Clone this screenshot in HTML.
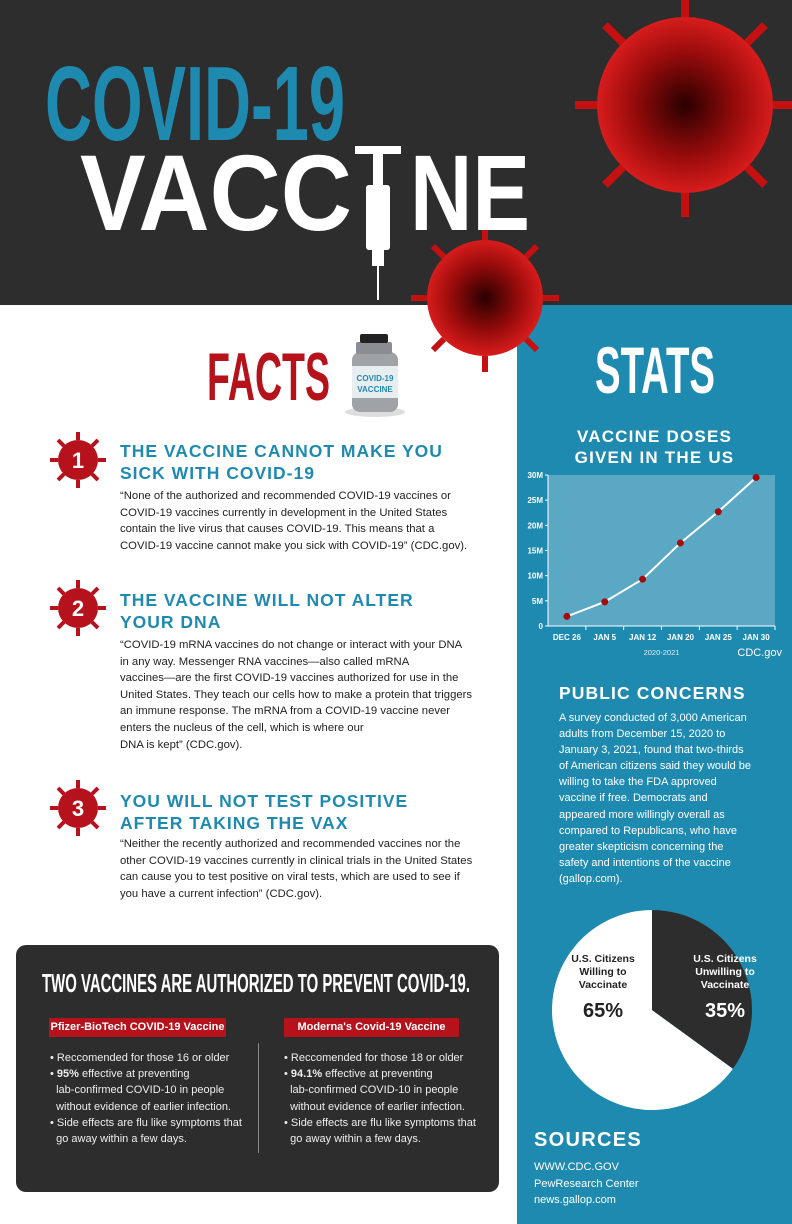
<!DOCTYPE html>
<html><head><meta charset="utf-8"><style>
*{margin:0;padding:0;box-sizing:border-box}
body{width:792px;height:1224px;position:relative;background:#fff;font-family:"Liberation Sans",sans-serif;overflow:hidden}
.a{position:absolute}
.h{color:#1f8ab0;font-weight:bold;font-size:17.5px;letter-spacing:1px;line-height:22px;left:120px;white-space:nowrap}
.p{font-size:11.3px;line-height:16.6px;color:#222;left:120px;white-space:nowrap}
.bl{font-size:11px;line-height:16.2px;color:#eee;white-space:nowrap}
</style></head><body>
<div class="a" style="left:0;top:0;width:792px;height:305px;background:#2d2d2d"></div>
<div class="a" style="left:517px;top:305px;width:275px;height:919px;background:#1f8ab0"></div>

<svg class="a" style="left:0;top:0" width="792" height="420">
<defs><radialGradient id="vg" cx="50%" cy="50%" r="50%"><stop offset="0" stop-color="#2a0000"/><stop offset="0.6" stop-color="#9a0c0c"/><stop offset="1" stop-color="#d81c1c"/></radialGradient></defs>
<g transform="translate(685,105)">
<circle r="88" fill="url(#vg)"/>
<g stroke="#c41010" stroke-width="8">
<line x1="0" y1="-88" x2="0" y2="-112"/><line x1="62" y1="-62" x2="80" y2="-80"/><line x1="88" y1="0" x2="110" y2="0"/><line x1="62" y1="62" x2="80" y2="80"/><line x1="0" y1="88" x2="0" y2="112"/><line x1="-62" y1="62" x2="-80" y2="80"/><line x1="-88" y1="0" x2="-110" y2="0"/><line x1="-62" y1="-62" x2="-80" y2="-80"/>
</g></g>
<g transform="translate(485,298)">
<circle r="58" fill="url(#vg)"/>
<g stroke="#c41010" stroke-width="6">
<line x1="0" y1="-58" x2="0" y2="-74"/><line x1="41" y1="-41" x2="52" y2="-52"/><line x1="58" y1="0" x2="74" y2="0"/><line x1="41" y1="41" x2="52" y2="52"/><line x1="0" y1="58" x2="0" y2="74"/><line x1="-41" y1="41" x2="-52" y2="52"/><line x1="-58" y1="0" x2="-74" y2="0"/><line x1="-41" y1="-41" x2="-52" y2="-52"/>
</g></g>
<g fill="#fff">
<rect x="355" y="146" width="46" height="8"/><rect x="373" y="150" width="10" height="40"/>
<rect x="366" y="185" width="24" height="65" rx="3"/><rect x="372" y="248" width="12" height="18"/>
<rect x="377" y="264" width="2" height="36"/>
</g>
<text x="45" y="140" textLength="300" lengthAdjust="spacingAndGlyphs" font-size="106" font-weight="bold" fill="#1f8ab0">COVID-19</text>
<text x="80" y="230" textLength="272" lengthAdjust="spacingAndGlyphs" font-size="108" font-weight="bold" fill="#fff">VACC</text>
<text x="410" y="230" textLength="120" lengthAdjust="spacingAndGlyphs" font-size="108" font-weight="bold" fill="#fff">NE</text>
<text x="207" y="400" textLength="123" lengthAdjust="spacingAndGlyphs" font-size="68" font-weight="bold" fill="#b5121b">FACTS</text>
<text x="595" y="393" textLength="120" lengthAdjust="spacingAndGlyphs" font-size="66" font-weight="bold" fill="#fff">STATS</text>
</svg>

<svg class="a" style="left:340px;top:330px" width="70" height="90">
<ellipse cx="35" cy="82" rx="30" ry="5" fill="#ddd"/>
<rect x="12" y="22" width="46" height="60" rx="8" fill="#9fa3a7"/>
<rect x="16" y="12" width="36" height="12" rx="2" fill="#8a8d91"/>
<rect x="20" y="4" width="28" height="9" rx="2" fill="#222"/>
<rect x="12" y="36" width="46" height="32" fill="#e8eef0"/>
<text x="35" y="51" text-anchor="middle" font-size="8" font-weight="bold" fill="#1f8ab0">COVID-19</text>
<text x="35" y="62" text-anchor="middle" font-size="8" font-weight="bold" fill="#1f8ab0">VACCINE</text>
</svg>

<svg class="a" style="left:40px;top:425px" width="80" height="420">
<g fill="#b5121b">
<g transform="translate(38,35)"><circle r="20"/><g stroke="#b5121b" stroke-width="4"><line y1="-20" y2="-28"/><line y1="20" y2="28"/><line x1="-20" x2="-28"/><line x1="20" x2="28"/><line x1="14" y1="14" x2="20" y2="20"/><line x1="-14" y1="14" x2="-20" y2="20"/><line x1="14" y1="-14" x2="20" y2="-20"/><line x1="-14" y1="-14" x2="-20" y2="-20"/></g><text y="8" text-anchor="middle" fill="#fff" font-size="22" font-weight="bold">1</text></g>
<g transform="translate(38,183)"><circle r="20"/><g stroke="#b5121b" stroke-width="4"><line y1="-20" y2="-28"/><line y1="20" y2="28"/><line x1="-20" x2="-28"/><line x1="20" x2="28"/><line x1="14" y1="14" x2="20" y2="20"/><line x1="-14" y1="14" x2="-20" y2="20"/><line x1="14" y1="-14" x2="20" y2="-20"/><line x1="-14" y1="-14" x2="-20" y2="-20"/></g><text y="8" text-anchor="middle" fill="#fff" font-size="22" font-weight="bold">2</text></g>
<g transform="translate(38,383)"><circle r="20"/><g stroke="#b5121b" stroke-width="4"><line y1="-20" y2="-28"/><line y1="20" y2="28"/><line x1="-20" x2="-28"/><line x1="20" x2="28"/><line x1="14" y1="14" x2="20" y2="20"/><line x1="-14" y1="14" x2="-20" y2="20"/><line x1="14" y1="-14" x2="20" y2="-20"/><line x1="-14" y1="-14" x2="-20" y2="-20"/></g><text y="8" text-anchor="middle" fill="#fff" font-size="22" font-weight="bold">3</text></g>
</g></svg>

<div class="a h" style="top:440px">THE VACCINE CANNOT MAKE YOU<br>SICK WITH COVID-19</div>
<div class="a p" style="top:488px">“None of the authorized and recommended COVID-19 vaccines or<br>COVID-19 vaccines currently in development in the United States<br>contain the live virus that causes COVID-19. This means that a<br>COVID-19 vaccine cannot make you sick with COVID-19” (CDC.gov).</div>
<div class="a h" style="top:589px">THE VACCINE WILL NOT ALTER<br>YOUR DNA</div>
<div class="a p" style="top:637px">“COVID-19 mRNA vaccines do not change or interact with your DNA<br>in any way. Messenger RNA vaccines—also called mRNA<br>vaccines—are the first COVID-19 vaccines authorized for use in the<br>United States. They teach our cells how to make a protein that triggers<br>an immune response. The mRNA from a COVID-19 vaccine never<br>enters the nucleus of the cell, which is where our<br>DNA is kept” (CDC.gov).</div>
<div class="a h" style="top:790px">YOU WILL NOT TEST POSITIVE<br>AFTER TAKING THE VAX</div>
<div class="a p" style="top:836px">“Neither the recently authorized and recommended vaccines nor the<br>other COVID-19 vaccines currently in clinical trials in the United States<br>can cause you to test positive on viral tests, which are used to see if<br>you have a current infection” (CDC.gov).</div>

<div class="a" style="left:16px;top:945px;width:483px;height:247px;background:#2d2d2d;border-radius:10px">
 <svg class="a" style="left:0;top:0" width="483" height="60"><text x="26" y="47" textLength="428" lengthAdjust="spacingAndGlyphs" font-size="26" font-weight="bold" fill="#fff">TWO VACCINES ARE AUTHORIZED TO PREVENT COVID-19.</text></svg>
 <div class="a" style="left:33px;top:73px;width:177px;height:19px;background:#b5121b;color:#fff;font-size:11px;font-weight:bold;text-align:center;line-height:19px">Pfizer-BioTech COVID-19 Vaccine</div>
 <div class="a" style="left:268px;top:73px;width:175px;height:19px;background:#b5121b;color:#fff;font-size:11px;font-weight:bold;text-align:center;line-height:19px">Moderna's Covid-19 Vaccine</div>
 <div class="a" style="left:242px;top:98px;width:1px;height:110px;background:#888"></div>
 <div class="a bl" style="left:34px;top:105px">• Reccomended for those 16 or older<br>• <b>95%</b> effective at preventing<br>&nbsp;&nbsp;lab-confirmed COVID-10 in people<br>&nbsp;&nbsp;without evidence of earlier infection.<br>• Side effects are flu like symptoms that<br>&nbsp;&nbsp;go away within a few days.</div>
 <div class="a bl" style="left:268px;top:105px">• Reccomended for those 18 or older<br>• <b>94.1%</b> effective at preventing<br>&nbsp;&nbsp;lab-confirmed COVID-10 in people<br>&nbsp;&nbsp;without evidence of earlier infection.<br>• Side effects are flu like symptoms that<br>&nbsp;&nbsp;go away within a few days.</div>
</div>

<div class="a" style="left:517px;top:426px;width:275px;text-align:center;color:#fff;font-weight:bold;font-size:17px;letter-spacing:1.2px;line-height:21px">VACCINE DOSES<br>GIVEN IN THE US</div>
<svg id="chart" class="a" style="left:517px;top:460px" width="275" height="200"></svg>

<div class="a" style="left:559px;top:683px;color:#fff;font-weight:bold;font-size:17.5px;letter-spacing:1.1px">PUBLIC CONCERNS</div>
<div class="a" style="left:559px;top:710px;color:#fff;font-size:11px;line-height:16.1px;white-space:nowrap">A survey conducted of 3,000 American<br>adults from December 15, 2020 to<br>January 3, 2021, found that two-thirds<br>of American citizens said they would be<br>willing to take the FDA approved<br>vaccine if free. Democrats and<br>appeared more willingly overall as<br>compared to Republicans, who have<br>greater skepticism concerning the<br>safety and intentions of the vaccine<br>(gallop.com).</div>

<svg id="pie" class="a" style="left:517px;top:900px" width="275" height="220"></svg>

<div class="a" style="left:534px;top:1129px;color:#fff;font-weight:bold;font-size:20px;letter-spacing:1.3px">SOURCES</div>
<div class="a" style="left:534px;top:1159px;color:#fff;font-size:11px;line-height:16.5px">WWW.CDC.GOV<br>PewResearch Center<br>news.gallop.com</div>

<script>
const categories=["DEC 26","JAN 5","JAN 12","JAN 20","JAN 25","JAN 30"];
const doses=[1.9,4.8,9.3,16.5,22.7,29.5];
const yTicks=[0,5,10,15,20,25,30];
const yTickLabels=["0","5M","10M","15M","20M","25M","30M"];
const pieLabels=["U.S. Citizens Willing to Vaccinate","U.S. Citizens Unwilling to Vaccinate"];
const pieValues=[65,35];

const NS="http://www.w3.org/2000/svg";
function mk(p,t,a){const e=document.createElementNS(NS,t);for(const k in a)e.setAttribute(k,a[k]);p.appendChild(e);return e;}
const c=document.getElementById('chart');
const L=31,R=258,T=15,B=166;
const x=i=>L+(R-L)/categories.length*(i+0.5);
const y=v=>B-(v/30)*(B-T);
let e=mk(c,'rect',{x:L,y:T,width:R-L,height:B-T,fill:'#5aa8c4'});


mk(c,'line',{x1:L,y1:T,x2:L,y2:B,stroke:'#fff','stroke-width':1});
mk(c,'line',{x1:L,y1:B,x2:R,y2:B,stroke:'#fff','stroke-width':1});
yTicks.forEach((v,i)=>{
 mk(c,'line',{x1:L-3,y1:y(v),x2:L,y2:y(v),stroke:'#fff'});
 const t=mk(c,'text',{x:L-5,y:y(v)+3,'text-anchor':'end','font-size':8,'font-weight':'bold',fill:'#fff'});
 t.textContent=yTickLabels[i];
 
 
});
categories.forEach((cat,i)=>{
 mk(c,'line',{x1:L+(R-L)/categories.length*(i+1),y1:B,x2:L+(R-L)/categories.length*(i+1),y2:B+4,stroke:'#fff'});
 const t=mk(c,'text',{x:x(i),y:B+14,'text-anchor':'middle','font-size':8,'font-weight':'bold',fill:'#fff'});
 t.textContent=cat;
 
 
});
let t=mk(c,'text',{x:(L+R)/2,y:B+29,'text-anchor':'middle','font-size':7.5,fill:'#e0eef4'});t.textContent='2020-2021';


t=mk(c,'text',{x:265,y:B+30,'text-anchor':'end','font-size':11,fill:'#fff'});t.textContent='CDC.gov';


const ln=mk(c,'polyline',{points:doses.map((v,i)=>x(i)+','+y(v)).join(' '),fill:'none',stroke:'#fff','stroke-width':2});


doses.forEach((v,i)=>{const d=mk(c,'circle',{cx:x(i),cy:y(v),r:3.5,fill:'#a50b0b'});
 
 });

const p=document.getElementById('pie');
const cx=135,cy=110,r=100,tot=pieValues.reduce((a,b)=>a+b,0);
const cols=['#fff','#2d2d2d'];
let start=-(pieValues[0]/tot)*2*Math.PI-Math.PI/2;
pieValues.forEach((v,i)=>{
 const a0=start,a1=start+v/tot*2*Math.PI;start=a1;
 const large=(a1-a0)>Math.PI?1:0;
 const s=mk(p,'path',{d:`M${cx},${cy} L${cx+r*Math.cos(a0)},${cy+r*Math.sin(a0)} A${r},${r} 0 ${large} 1 ${cx+r*Math.cos(a1)},${cy+r*Math.sin(a1)} Z`,fill:cols[i]});
 
 
});
const lbl=[{x:86,y:62,c:'#222'},{x:208,y:62,c:'#fff'}];
pieLabels.forEach((s,i)=>{
 const w=s.split(' ');const lines=[w.slice(0,2).join(' '),w.slice(2,-1).join(' '),w[w.length-1]];
 lines.forEach((l,j)=>{const tt=mk(p,'text',{x:lbl[i].x,y:lbl[i].y+j*13,'text-anchor':'middle','font-size':10.5,'font-weight':'bold',fill:lbl[i].c});tt.textContent=l;
  
  });
 const pc=mk(p,'text',{x:lbl[i].x,y:lbl[i].y+55,'text-anchor':'middle','font-size':20,'font-weight':'bold',fill:lbl[i].c});pc.textContent=pieValues[i]+'%';
 
 
});
</script>
</body></html>
